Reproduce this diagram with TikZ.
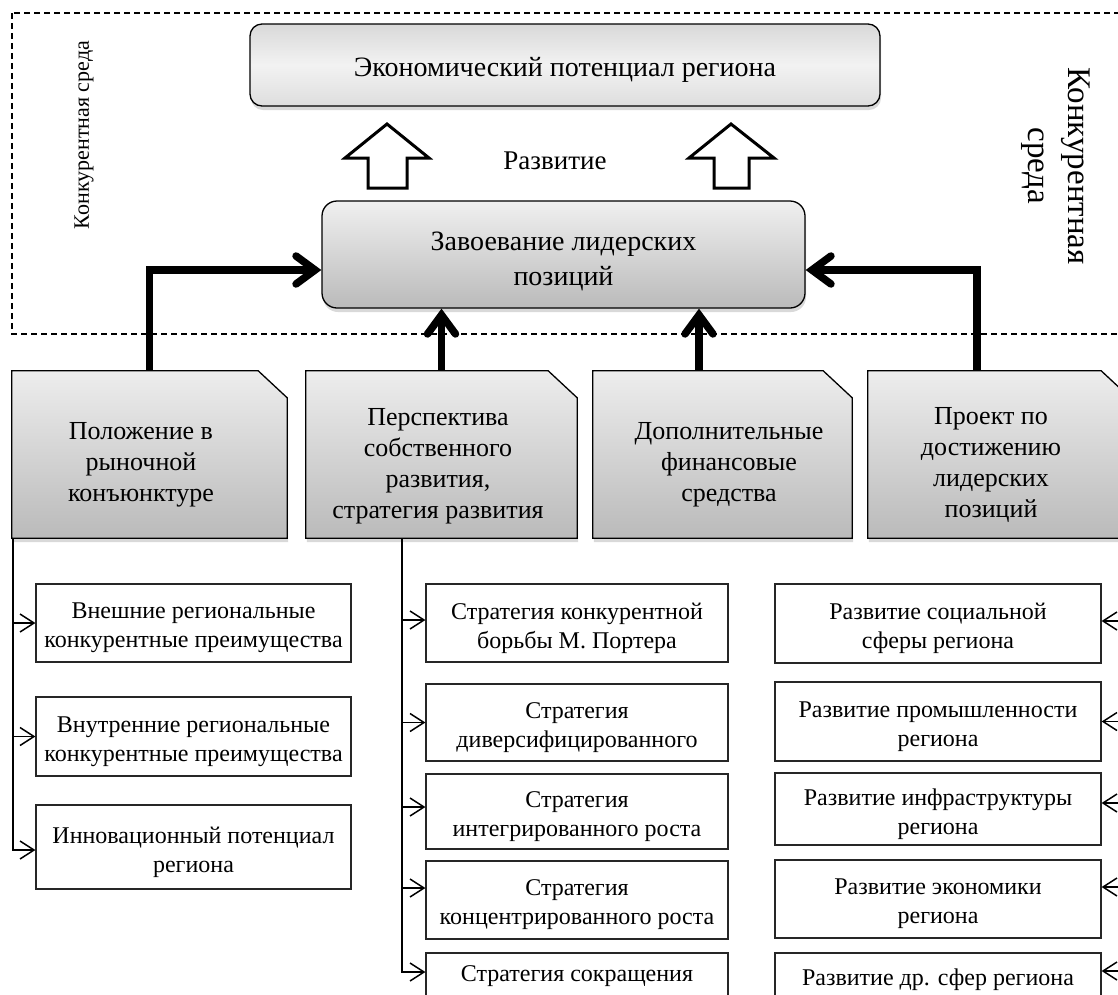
\documentclass[tikz,border=0pt]{standalone}
\usepackage{fontspec}
\setmainfont{Liberation Serif}
\usetikzlibrary{arrows.meta,shadows}
\newcommand\mkbox[6]{%
  \node[smallbox, minimum width=#4pt, minimum height=#5pt] (#1) at (#2,#3) {};
  \node[boxtext] (#1t) at ([yshift=-5pt]#1.center) {#6};}
\begin{document}
\begin{tikzpicture}[x=1pt,y=-1pt,
  every node/.style={inner sep=0pt, align=center},
  shade1/.style={drop shadow={shadow xshift=1pt, shadow yshift=-4pt, opacity=0.3}},
  ecobox/.style={draw=black, line width=1.3pt, rounded corners=12pt, top color=black!15, bottom color=black!13, middle color=black!5, shade1},
  zavbox/.style={draw=black, line width=1.3pt, rounded corners=15pt, top color=black!6, bottom color=black!27, shade1},
  bigtext/.style={font=\fontsize{28}{35}\selectfont},
  foldnode/.style={minimum height=167pt},
  foldshape/.style={draw=black, line width=1.3pt, top color=black!7, bottom color=black!27, shade1},
  foldtext/.style={font=\fontsize{26}{31}\selectfont},
  smallbox/.style={draw=black!85, line width=1.2pt, fill=white},
  boxtext/.style={font=\fontsize{24}{29}\selectfont},
  hollow/.style={draw=black, line width=3pt, fill=white, line join=miter},
  feed/.style={line width=7.5pt, line join=miter, -{Straight Barb[length=19pt, width=28pt, line cap=round]}},
  branch/.style={line width=1.5pt, -{Straight Barb[length=14pt, width=18pt]}},
  envbox/.style={dashed, dash pattern=on 6pt off 4pt, line width=1.2pt}
]
\useasboundingbox (0,0) rectangle (1118,994);
\clip (0,0) rectangle (1118,994);

% competitive environment frame
\draw[envbox] (12,13) rectangle (1140,334);
\node[rotate=90, font=\fontsize{22}{26}\selectfont] (envL) at (84,135) {Конкурентная среда};
\node[rotate=-90, font=\fontsize{33}{40}\selectfont] (envR) at (1056,166) {Конкурентная\\среда};

% top boxes
\node[ecobox, minimum width=630pt, minimum height=82pt] (eco) at (565,65) {};
\node[bigtext] (ecot) at ([yshift=-5pt]eco.center) {Экономический потенциал региона};
\node[zavbox, minimum width=483pt, minimum height=107pt] (zav) at (563.5,254.5) {};
\node[bigtext] (zavt) at ([yshift=-7pt]zav.center) {Завоевание лидерских\\позиций};

% development arrows
\draw[hollow] (368,188) -- (368,158) -- (345,158) -- (387,124) -- (429,158) -- (407,158) -- (407,188) -- cycle;
\draw[hollow] (714,188) -- (714,158) -- (689,158) -- (731,124) -- (774,158) -- (749,158) -- (749,188) -- cycle;
\node[font=\fontsize{27}{32}\selectfont] (razv) at (555,161) {Развитие};

% folded boxes
\node[foldnode, minimum width=275pt] (b1) at (149.5,454.5) {};
\node[foldnode, minimum width=271pt] (b2) at (441.5,454.5) {};
\node[foldnode, minimum width=259pt] (b3) at (722.5,454.5) {};
\node[foldnode, minimum width=262pt] (b4) at (999,454.5) {};
\foreach \b in {b1,b2,b3,b4}{
  \path[foldshape] (\b.south west) -- (\b.north west) -- ([xshift=-29pt]\b.north east)
    -- ([yshift=-27pt]\b.north east) -- (\b.south east) -- cycle;
}
\node[foldtext] (b1t) at (141,465) {Положение в\\рыночной\\конъюнктуре};
\node[foldtext] (b2t) at (438,466) {Перспектива\\собственного\\развития,\\стратегия развития};
\node[foldtext] (b3t) at (729,465) {Дополнительные\\финансовые\\средства};
\node[foldtext] (b4t) at (991,465) {Проект по\\достижению\\лидерских\\позиций};

% feeding arrows
\coordinate (p3) at ([xshift=-23.5pt]b3.north);
\coordinate (p4) at ([xshift=-22pt]b4.north);
\draw[feed] (b1.north) |- ([yshift=-15.5pt]zav.west);
\draw[feed] (b2.north) -- (b2.north |- zav.south);
\draw[feed] (p3) -- (p3 |- zav.south);
\draw[feed] (p4) |- ([yshift=-15.5pt]zav.east);

% left column
\mkbox{c1}{193.5}{623}{315}{78}{Внешние региональные\\конкурентные преимущества}
\mkbox{c2}{193.5}{736.5}{315}{79}{Внутренние региональные\\конкурентные преимущества}
\mkbox{c3}{193.5}{847}{315}{84}{Инновационный потенциал\\региона}

% middle column
\mkbox{m1}{577}{623}{302}{78}{Стратегия конкурентной\\борьбы М. Портера}
\mkbox{m2}{577}{722.5}{302}{77}{Стратегия\\диверсифицированного}
\mkbox{m3}{577}{811.5}{302}{75}{Стратегия\\интегрированного роста}
\mkbox{m4}{577}{900}{302}{78}{Стратегия\\концентрированного роста}
\node[smallbox, minimum width=302pt, minimum height=78pt] (m5) at (577,992) {};
\node[boxtext] (m5t) at (577,976) {Стратегия сокращения};

% right column
\mkbox{r1}{938}{623.5}{326}{79}{Развитие социальной\\сферы региона}
\mkbox{r2}{938}{721.5}{326}{79}{Развитие промышленности\\региона}
\mkbox{r3}{938}{809}{326}{72}{Развитие инфраструктуры\\региона}
\mkbox{r4}{938}{899}{326}{78}{Развитие экономики\\региона}
\node[smallbox, minimum width=326pt, minimum height=78pt] (r5) at (938,992) {};
\node[boxtext] (r5t) at (938,980) {Развитие др. сфер региона};

% branch connectors
\coordinate (q1) at ([xshift=1pt]b1.south west);
\draw[branch] (q1) |- (c1.west);
\draw[branch] (q1) |- (c2.west);
\draw[branch] (q1) |- ([yshift=-3pt]c3.west);

\coordinate (q2) at ([xshift=96pt]b2.south west);
\draw[branch] (q2) |- ([yshift=3pt]m1.west);
\draw[branch] (q2) |- (m2.west);
\draw[branch] (q2) |- ([yshift=4.5pt]m3.west);
\draw[branch] (q2) |- ([yshift=12pt]m4.west);
\draw[branch] (q2) |- ([yshift=20pt]m5.west);

\coordinate (q4) at (b4.south east);
\draw[branch] (q4) |- ([yshift=2.5pt]r1.east);
\draw[branch] (q4) |- (r2.east);
\draw[branch] (q4) |- ([yshift=6pt]r3.east);
\draw[branch] (q4) |- ([yshift=12pt]r4.east);
\draw[branch] (q4) |- ([yshift=21pt]r5.east);
\end{tikzpicture}
\end{document}
